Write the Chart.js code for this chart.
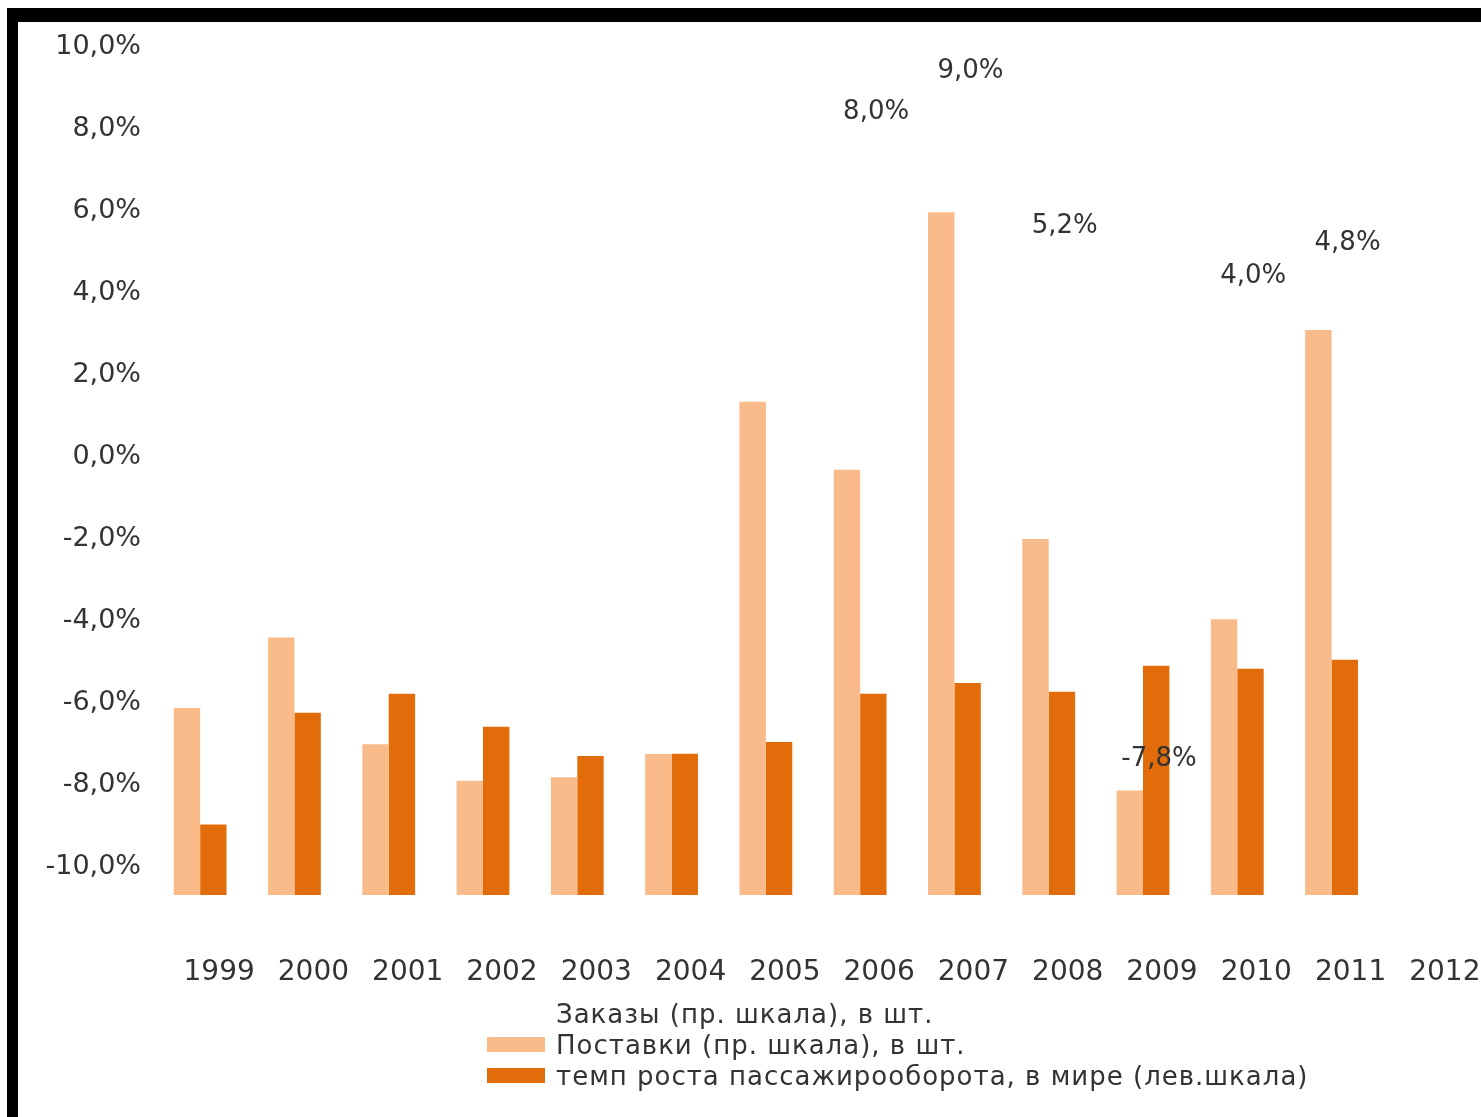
<!DOCTYPE html>
<html>
<head>
<meta charset="utf-8">
<script src="https://cdn.jsdelivr.net/npm/chart.js@4/dist/chart.umd.min.js"></script>
<style>
html,body{margin:0;padding:0;background:#fff;}
#wrap{position:relative;width:1481px;height:1117px;overflow:hidden;background:#fff;}
canvas{position:absolute;left:0;top:0;}
#frame{position:absolute;left:7px;top:8px;right:-40px;bottom:-40px;border-left:11px solid #000;border-top:14px solid #000;pointer-events:none;}
#legend{position:absolute;left:487px;top:998px;font-family:"DejaVu Sans",sans-serif;font-size:26px;letter-spacing:1px;color:#333;}
.row{display:flex;align-items:center;height:31px;white-space:nowrap;}
.sw{width:58px;height:15px;margin-right:11px;flex:none;}
</style>
</head>
<body>
<div id="wrap">
  <canvas id="c" width="1481" height="1117"></canvas>
  <div id="frame"></div>
  <div id="legend"></div>
</div>
<script>
// ---- data ----
const years = ['1999','2000','2001','2002','2003','2004','2005','2006','2007','2008','2009','2010','2011','2012'];
// light bars (right scale, pcs.)
const lightBars = [770, 1060, 620, 470, 485, 580, 2030, 1750, 2810, 1465, 430, 1135, 2325, null];
// dark bars (right scale, pcs.)
const darkBars  = [290, 750, 828, 692, 572, 581, 630, 828, 873, 836, 943, 931, 968, null];
// growth labels (left scale, %)
const growthPct = [null, null, null, null, null, null, null, 8.0, 9.0, 5.2, -7.8, 4.0, 4.8, null];
// left axis tick values (%)
const leftTicks = [-10, -8, -6, -4, -2, 0, 2, 4, 6, 8, 10];
const seriesNames = ['Заказы (пр. шкала), в шт.', 'Поставки (пр. шкала), в шт.', 'темп роста пассажирооборота, в мире (лев.шкала)'];

const LIGHT = '#F8BB89';
const DARK = '#E36C0A';
const TEXT = '#333333';
const FONT = '"DejaVu Sans", sans-serif';

const fmtPct = v => v.toFixed(1).replace('.', ',') + '%';

const labelPlugin = {
  id: 'growthLabels',
  afterDatasetsDraw(chart) {
    const meta = chart.getDatasetMeta(0);
    const ctx = chart.ctx;
    ctx.save();
    ctx.font = '26px ' + FONT;
    ctx.fillStyle = TEXT;
    ctx.textAlign = 'center';
    ctx.textBaseline = 'middle';
    meta.data.forEach((pt, i) => {
      const v = growthPct[i];
      if (v === null || v === undefined) return;
      ctx.fillText(fmtPct(v), pt.x + 16, pt.y - 17);
    });
    ctx.restore();
  }
};

const chart = new Chart(document.getElementById('c'), {
  data: {
    labels: years,
    datasets: [
      {
        type: 'line',
        label: seriesNames[0],
        data: growthPct,
        yAxisID: 'yL',
        showLine: false,
        pointRadius: 0,
        borderColor: 'rgba(0,0,0,0)',
        backgroundColor: 'rgba(0,0,0,0)'
      },
      {
        type: 'bar',
        label: seriesNames[1],
        data: lightBars,
        yAxisID: 'yR',
        backgroundColor: LIGHT,
        borderWidth: 0,
        categoryPercentage: 0.56,
        barPercentage: 1.0
      },
      {
        type: 'bar',
        label: seriesNames[2],
        data: darkBars,
        yAxisID: 'yR',
        backgroundColor: DARK,
        borderWidth: 0,
        categoryPercentage: 0.56,
        barPercentage: 1.0
      }
    ]
  },
  options: {
    responsive: false,
    animation: false,
    layout: { padding: { left: 0, top: 47, right: 8, bottom: 0 } },
    plugins: {
      legend: { display: false },
      tooltip: { enabled: false }
    },
    scales: {
      x: {
        type: 'category',
        grid: { display: false, drawTicks: false },
        border: { display: false },
        ticks: {
          font: { family: FONT, size: 28 },
          color: TEXT,
          labelOffset: 19,
          padding: 61,
          maxRotation: 0,
          autoSkip: false
        },
        afterFit(s) { s.height = 222; s.paddingLeft = 0; s.paddingRight = 0; }
      },
      yL: {
        type: 'linear',
        position: 'left',
        min: -10.69,
        max: 10,
        grid: { display: false, drawTicks: false },
        border: { display: false },
        afterBuildTicks(s) { s.ticks = leftTicks.map(v => ({ value: v })); },
        ticks: {
          font: { family: FONT, size: 27 },
          color: TEXT,
          padding: 12,
          callback: v => fmtPct(v)
        },
        afterFit(s) { s.width = 153; }
      },
      yR: {
        type: 'linear',
        position: 'right',
        display: false,
        min: 0,
        max: 3490
      }
    }
  },
  plugins: [labelPlugin]
});

// HTML legend built from the datasets
const legendColors = ['rgba(0,0,0,0)', LIGHT, DARK];
const lg = document.getElementById('legend');
chart.data.datasets.forEach((ds, i) => {
  const row = document.createElement('div');
  row.className = 'row';
  const sw = document.createElement('span');
  sw.className = 'sw';
  sw.style.background = legendColors[i];
  const tx = document.createElement('span');
  tx.textContent = ds.label;
  row.appendChild(sw);
  row.appendChild(tx);
  lg.appendChild(row);
});
</script>
</body>
</html>
